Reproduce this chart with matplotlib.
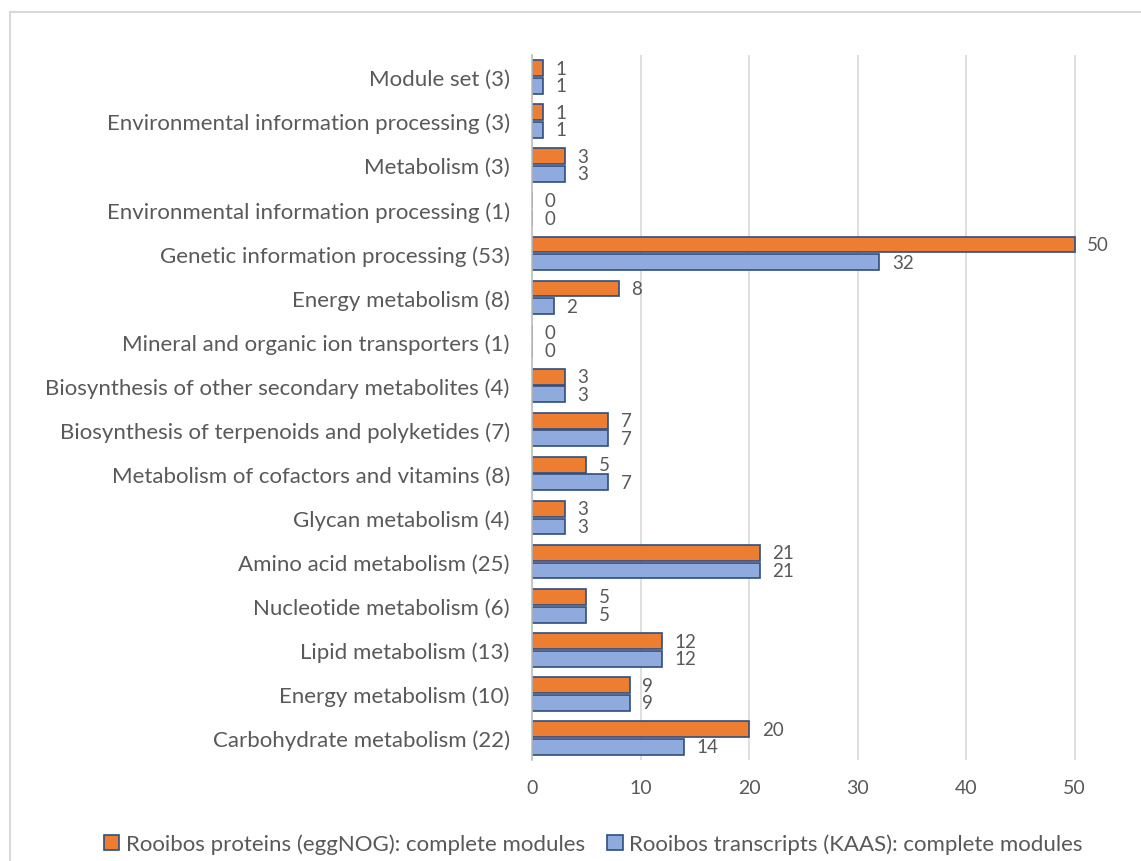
import numpy as np
import matplotlib.pyplot as plt
from matplotlib.lines import Line2D
from matplotlib.patches import Patch

# categories listed top to bottom as in the chart
categories = [
    "Module set (3)",
    "Environmental information processing (3)",
    "Metabolism (3)",
    "Environmental information processing (1)",
    "Genetic information processing (53)",
    "Energy metabolism (8)",
    "Mineral and organic ion transporters (1)",
    "Biosynthesis of other secondary metabolites (4)",
    "Biosynthesis of terpenoids and polyketides (7)",
    "Metabolism of cofactors and vitamins (8)",
    "Glycan metabolism (4)",
    "Amino acid metabolism (25)",
    "Nucleotide metabolism (6)",
    "Lipid metabolism (13)",
    "Energy metabolism (10)",
    "Carbohydrate metabolism (22)",
]
proteins = [1, 1, 3, 0, 50, 8, 0, 3, 7, 5, 3, 21, 5, 12, 9, 20]
transcripts = [1, 1, 3, 0, 32, 2, 0, 3, 7, 7, 3, 21, 5, 12, 9, 14]
xticks = [0, 10, 20, 30, 40, 50]

label_prot = "Rooibos proteins (eggNOG): complete modules"
label_tran = "Rooibos transcripts (KAAS): complete modules"

plt.rcParams['font.family'] = ['Lato', 'DejaVu Sans']
txt = '#595959'
orange = '#ED7D31'
blue = '#8FAADC'
edge = '#2F4F7F'

fig = plt.figure(figsize=(11.41, 8.62), dpi=100)
ax = fig.add_axes([0.4663, 0.1172, 0.5232, 0.8178])

y = np.arange(len(categories))
h = 0.36
gap = 0.02
ax.barh(y - h/2 - gap, proteins, height=h, color=orange, edgecolor=edge, lw=1.2)
ax.barh(y + h/2 + gap, transcripts, height=h, color=blue, edgecolor=edge, lw=1.2)

# value labels next to each bar
for i in range(len(categories)):
    ax.annotate(str(proteins[i]), (proteins[i], y[i] - h/2 - gap), xytext=(9, 0),
                textcoords='offset points', va='center', ha='left', fontsize=13.5, color=txt)
    ax.annotate(str(transcripts[i]), (transcripts[i], y[i] + h/2 + gap), xytext=(9, 0),
                textcoords='offset points', va='center', ha='left', fontsize=13.5, color=txt)

ax.set_ylim(len(categories) - 0.5, -0.5)
ax.set_xlim(0, 55)
ax.set_yticks(y)
ax.set_yticklabels(categories, fontsize=16, color=txt)
ax.set_xticks(xticks)
ax.set_xticklabels([str(v) for v in xticks], fontsize=14, color=txt)
ax.tick_params(axis='both', length=0)
ax.tick_params(axis='y', pad=16)
ax.tick_params(axis='x', pad=14)
for s in ['top', 'right', 'bottom']:
    ax.spines[s].set_visible(False)
ax.spines['left'].set_color('#bfbfbf')
ax.spines['left'].set_linewidth(1.2)
ax.grid(axis='x', color='#d9d9d9', lw=1.2)
ax.set_axisbelow(True)

handles = [Patch(facecolor=orange, edgecolor=edge, lw=1.2),
           Patch(facecolor=blue, edgecolor=edge, lw=1.2)]
fig.legend(handles, [label_prot, label_tran], loc='center', bbox_to_anchor=(0.52, 0.02),
           ncol=2, frameon=False, fontsize=16, labelcolor=txt,
           handlelength=0.7, handleheight=0.7, handletextpad=0.3, columnspacing=1.0)

# outer chart border (left and top edges visible)
fig.add_artist(Line2D([0.0088, 0.0088], [0, 0.985], transform=fig.transFigure, color='#d9d9d9', lw=1.5))
fig.add_artist(Line2D([0.0088, 1], [0.985, 0.985], transform=fig.transFigure, color='#d9d9d9', lw=1.5))

fig.savefig('out.png', dpi=100)
